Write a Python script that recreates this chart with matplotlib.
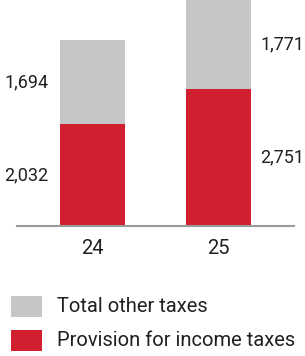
import matplotlib
matplotlib.use("Agg")
import matplotlib.pyplot as plt
from matplotlib.patches import Rectangle

years = ["24", "25"]
income_taxes = [2032, 2751]
other_taxes = [1694, 1771]
income_labels = ["2,032", "2,751"]
other_labels = ["1,694", "1,771"]
legend_labels = ["Total other taxes", "Provision for income taxes"]

color_red = "#D11F30"
color_grey = "#C5C6C8"
color_text = "#231F20"

plt.rcParams['font.family'] = ['Roboto', 'DejaVu Sans']
fs_val = 13
fs = 14.5

W, H = 305, 356
fig = plt.figure(figsize=(W / 100, H / 100), dpi=100)
ax = fig.add_axes([17 / W, 130 / H, 277 / W, 226 / H])

x = range(len(years))
width = 0.516
ax.bar(x, income_taxes, width, color=color_red, zorder=2)
ax.bar(x, other_taxes, width, bottom=income_taxes, color=color_grey, zorder=2)

ax.set_xlim(-0.6, 1.6)
ax.set_ylim(0, sum([income_taxes[1], other_taxes[1]]))

# value labels: left of first bar, right of second bar
for i in x:
    if i == 0:
        xpos, ha = i - width / 2 - 0.09, "right"
    else:
        xpos, ha = i + width / 2 + 0.075, "left"
    ax.text(xpos, income_taxes[i] / 2, income_labels[i], ha=ha, va="center",
            fontsize=fs_val, color=color_text)
    ax.text(xpos, income_taxes[i] + other_taxes[i] / 2, other_labels[i], ha=ha,
            va="center", fontsize=fs_val, color=color_text)

for s in ["top", "right", "left"]:
    ax.spines[s].set_visible(False)
ax.spines["bottom"].set_color("#9A9A9A")
ax.spines["bottom"].set_linewidth(1.5)
ax.set_yticks([])
ax.set_xticks(list(x))
ax.set_xticklabels(years, fontsize=fs, color=color_text)
ax.tick_params(axis="x", length=0, pad=9)

# legend
for j, (lab, col) in enumerate(zip(legend_labels, [color_grey, color_red])):
    y0 = 1 - (317 + j * 34) / H
    fig.add_artist(Rectangle((11 / W, y0), 31 / W, 21 / H, transform=fig.transFigure,
                             facecolor=col, edgecolor="none"))
    fig.text(57 / W, y0 + 10 / H, lab, ha="left", va="center", fontsize=fs, color=color_text)

fig.savefig("out.png", dpi=100)
